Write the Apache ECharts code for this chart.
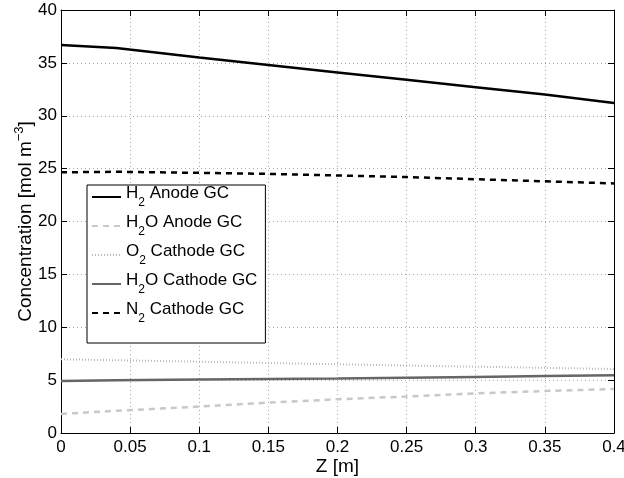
<!DOCTYPE html>
<html><head><meta charset="utf-8">
<script src="https://cdn.jsdelivr.net/npm/echarts@6/dist/echarts.min.js"></script>
<style>html,body{margin:0;padding:0;background:#fff}#c{width:624px;height:478px}</style>
</head><body><div id="c"></div>
<script>
const zValues = [0, 0.04, 0.1, 0.15, 0.2, 0.25, 0.3, 0.35, 0.4];
const h2Anode = [36.7, 36.4, 35.5, 34.8, 34.1, 33.4, 32.7, 32.0, 31.2];
const h2oAnode = [1.8, 2.1, 2.5, 2.87, 3.19, 3.45, 3.75, 3.97, 4.16];
const o2Cathode = [6.97, 6.88, 6.74, 6.62, 6.5, 6.38, 6.27, 6.16, 6.05];
const h2oCathode = [4.92, 4.98, 5.05, 5.1, 5.15, 5.22, 5.3, 5.38, 5.45];
const n2Cathode = [24.65, 24.7, 24.6, 24.5, 24.35, 24.2, 24.0, 23.8, 23.6];
const xTicks = [0, 0.05, 0.1, 0.15, 0.2, 0.25, 0.3, 0.35, 0.4];
const yTicks = [0, 5, 10, 15, 20, 25, 30, 35, 40];

const seriesNames = ['H2 Anode GC', 'H2O Anode GC', 'O2 Cathode GC', 'H2O Cathode GC', 'N2 Cathode GC'];
const legendText = {
  'H2 Anode GC': '{h| }{a|H}{s|2}{a| Anode GC}',
  'H2O Anode GC': '{h| }{a|H}{s|2}{a|O Anode GC}',
  'O2 Cathode GC': '{h| }{a|O}{s|2}{a| Cathode GC}',
  'H2O Cathode GC': '{h| }{a|H}{s|2}{a|O Cathode GC}',
  'N2 Cathode GC': '{h| }{a|N}{s|2}{a| Cathode GC}'
};
const pair = arr => zValues.map((z, i) => [z, arr[i]]);
const font = 'Liberation Sans, Arial, Helvetica, sans-serif';

const chart = echarts.init(document.getElementById('c'), null, {renderer: 'canvas'});
const axisCommon = {
  axisLine: {show: true, onZero: false, lineStyle: {color: '#000', width: 1}},
  axisTick: {show: true, inside: true, length: 6, lineStyle: {color: '#000'}},
  splitLine: {show: false}
};
chart.setOption({
  animation: false,
  backgroundColor: '#fff',
  grid: {left: 61, right: 10, top: 10, bottom: 45, containLabel: false, outerBoundsMode: 'none'},
  legend: {
    orient: 'vertical', left: 87, top: 185,
    itemWidth: 29, itemHeight: 10, itemGap: 5,
    padding: [0, 8, 18, 4],
    borderColor: '#000', borderWidth: 1, backgroundColor: '#fff',
    itemStyle: {opacity: 0},
    data: seriesNames,
    formatter: n => legendText[n],
    textStyle: {
      fontFamily: font, fontSize: 17, color: '#000',
      rich: {
        h: {fontSize: 1, lineHeight: 24, width: 0, verticalAlign: 'middle'},
        a: {fontFamily: font, fontSize: 17, color: '#000', verticalAlign: 'top', lineHeight: 22},
        s: {fontFamily: font, fontSize: 12, color: '#000', verticalAlign: 'bottom', lineHeight: 14}
      }
    }
  },
  xAxis: [
    Object.assign({}, axisCommon, {
      type: 'value', min: 0, max: 0.4, interval: 0.05, position: 'bottom',
      name: 'Z [m]', nameLocation: 'middle', nameGap: 24, nameMoveOverlap: false,
      nameTextStyle: {fontFamily: font, fontSize: 19, color: '#000'},
      axisLabel: {fontFamily: font, fontSize: 17, color: '#000', margin: 6,
        formatter: v => String(+v.toFixed(2))},
      splitLine: {show: true, lineStyle: {color: '#aaa', type: [1, 3], width: 1}}
    }),
    Object.assign({}, axisCommon, {
      type: 'value', min: 0, max: 0.4, interval: 0.05, position: 'top',
      axisLabel: {show: false}
    })
  ],
  yAxis: [
    Object.assign({}, axisCommon, {
      type: 'value', min: 0, max: 40, interval: 5, position: 'left',
      name: '{a|Concentration [mol m}{p|−3}{a|]}', nameLocation: 'middle', nameGap: 26, nameMoveOverlap: false,
      nameTextStyle: {fontFamily: font, fontSize: 19, color: '#000',
        rich: {
          a: {fontFamily: font, fontSize: 19, color: '#000', verticalAlign: 'bottom', lineHeight: 22},
          p: {fontFamily: font, fontSize: 13, color: '#000', verticalAlign: 'bottom', lineHeight: 22, padding: [0, 0, 9, 0]}
        }},
      axisLabel: {fontFamily: font, fontSize: 17, color: '#000', margin: 4},
      splitLine: {show: true, lineStyle: {color: '#aaa', type: [1, 3], width: 1}}
    }),
    Object.assign({}, axisCommon, {
      type: 'value', min: 0, max: 40, interval: 5, position: 'right',
      axisLabel: {show: false}
    })
  ],
  series: [
    {name: seriesNames[0], type: 'line', data: pair(h2Anode), showSymbol: false, symbol: 'none',
      lineStyle: {color: '#000', width: 2.5}, itemStyle: {color: '#000'}},
    {name: seriesNames[1], type: 'line', data: pair(h2oAnode), showSymbol: false, symbol: 'none',
      lineStyle: {color: '#c8c8c8', width: 2.5, type: [6, 5]}, itemStyle: {color: '#c8c8c8'}},
    {name: seriesNames[2], type: 'line', data: pair(o2Cathode), showSymbol: false, symbol: 'none',
      lineStyle: {color: '#b8b8b8', width: 2, type: [1, 2]}, itemStyle: {color: '#b8b8b8'}},
    {name: seriesNames[3], type: 'line', data: pair(h2oCathode), showSymbol: false, symbol: 'none',
      lineStyle: {color: '#666', width: 2.5}, itemStyle: {color: '#666'}},
    {name: seriesNames[4], type: 'line', data: pair(n2Cathode), showSymbol: false, symbol: 'none',
      lineStyle: {color: '#000', width: 2.5, type: [6, 5]}, itemStyle: {color: '#000'}}
  ]
});
</script></body></html>
